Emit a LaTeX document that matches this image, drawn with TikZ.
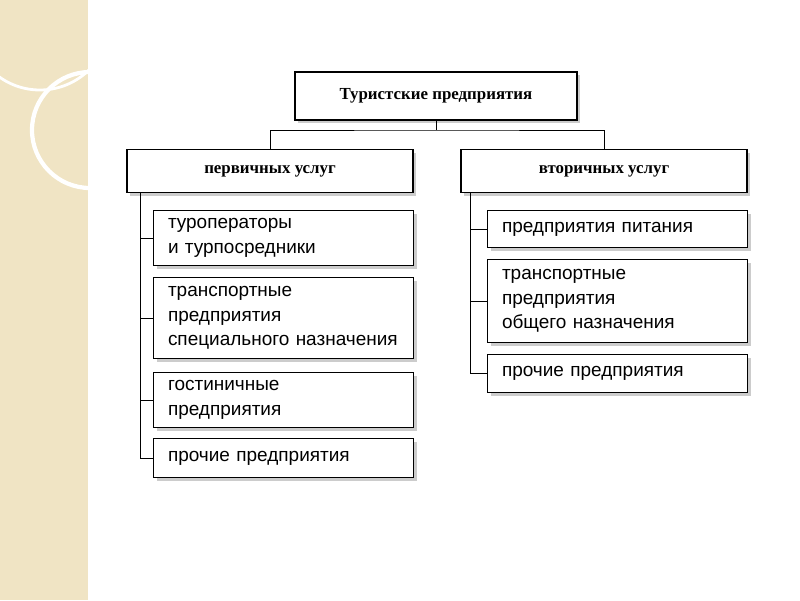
\documentclass[tikz,border=0pt]{standalone}
\usepackage{fontspec}
\setmainfont{Liberation Serif}
\setsansfont{Liberation Sans}
\usetikzlibrary{positioning,shadows}

\definecolor{strip}{RGB}{240,228,196}
\tikzset{
  headbox/.style={draw,thick,fill=white,drop shadow={opacity=0.4},font=\bfseries\fontsize{12}{14}\selectfont,
    inner sep=0pt},
  itembox/.style={draw,thick,fill=white,drop shadow={opacity=0.4},font=\sffamily\fontsize{13.5}{17.5}\selectfont,
    align=left,inner sep=0pt,anchor=north west}
}

\begin{document}
\begin{tikzpicture}[x=0.025cm,y=-0.025cm]
    \useasboundingbox (0,0) rectangle (800,600);
    % left strip
    \fill [strip] (0,0) rectangle (88,600);
    \draw [white,line width=3pt] (90,130) circle (58);
    \draw [white,line width=2pt] (40,20) circle (70);
    \fill [white] (88,0) rectangle (800,600);
    % headers
    \node [headbox,minimum width=7.05cm,minimum height=1.2cm] (top) at (436,96) {Туристские предприятия};
    \node [headbox,minimum width=7.15cm,minimum height=1.07cm] (prim) at (270,171) {первичных услуг};
    \node [headbox,minimum width=7.15cm,minimum height=1.07cm] (sec) at (604,171) {вторичных услуг};
    \coordinate (fork) at (436,130);
    \draw (top.south) -- (fork);
    \draw (prim.north) |- (fork) -| (sec.north);
    % primary items
    \node [itembox,text width=6.2cm,minimum width=6.5cm,minimum height=1.37cm] (p1) at (153,210)
      {\hspace*{6pt}туроператоры\\\hspace*{6pt}и турпосредники};
    \node [itembox,text width=6.2cm,minimum width=6.5cm,minimum height=2.02cm] (p2) at (153,277)
      {\hspace*{6pt}транспортные\\\hspace*{6pt}предприятия\\\hspace*{6pt}специального назначения};
    \node [itembox,text width=6.2cm,minimum width=6.5cm,minimum height=1.37cm] (p3) at (153,372)
      {\hspace*{6pt}гостиничные\\\hspace*{6pt}предприятия};
    \node [itembox,text width=6.2cm,minimum width=6.5cm,minimum height=0.97cm] (p4) at (153,438)
      {\hspace*{6pt}прочие предприятия};
    \coordinate (pl) at (140,193);
    \draw (pl) |- (p4.west);
    \foreach \n in {p1,p2,p3} \draw (pl |- \n.west) -- (\n.west);
    % secondary items
    \node [itembox,text width=6.2cm,minimum width=6.5cm,minimum height=0.92cm] (s1) at (487,210)
      {\hspace*{6pt}предприятия питания};
    \node [itembox,text width=6.2cm,minimum width=6.5cm,minimum height=2.07cm] (s2) at (487,259)
      {\hspace*{6pt}транспортные\\\hspace*{6pt}предприятия\\\hspace*{6pt}общего назначения};
    \node [itembox,text width=6.2cm,minimum width=6.5cm,minimum height=0.95cm] (s3) at (487,354)
      {\hspace*{6pt}прочие предприятия};
    \coordinate (sl) at (470,193);
    \draw (sl) |- (s3.west);
    \foreach \n in {s1,s2} \draw (sl |- \n.west) -- (\n.west);
\end{tikzpicture}
\end{document}
